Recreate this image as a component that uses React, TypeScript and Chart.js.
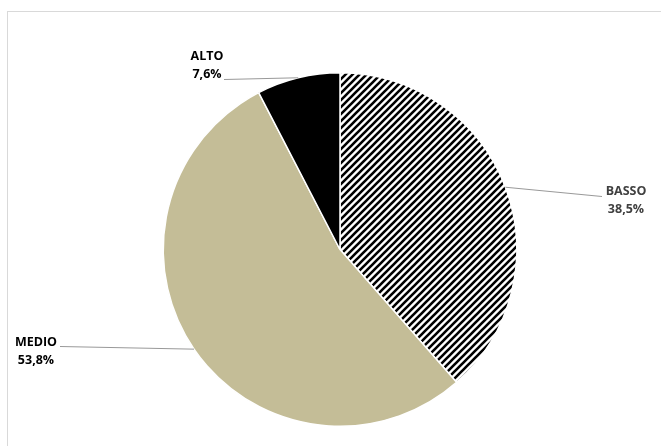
import React, { useEffect, useRef } from "react";
import { Chart, registerables } from "chart.js";

Chart.register(...registerables);

const categories = ["BASSO", "MEDIO", "ALTO"];
const percentages = [38.5, 53.8, 7.6];
const percentLabels = ["38,5%", "53,8%", "7,6%"];
const labelColors = ["#404040", "#000000", "#000000"];
// label block centre and leader end, as offsets from the pie centre (layout only)
const labelOffsets = [
  { tx: 286, ty: -49, lx: 262, ly: -53 },
  { tx: -304, ty: 102, lx: -280, ly: 97 },
  { tx: -133, ty: -184, lx: -116, ly: -170 },
];

function makeHatch(): CanvasPattern | string {
  const s = 7;
  const c = document.createElement("canvas");
  c.width = s;
  c.height = s;
  const g = c.getContext("2d");
  if (!g) return "#000";
  g.fillStyle = "#ffffff";
  g.fillRect(0, 0, s, s);
  g.strokeStyle = "#000000";
  g.lineWidth = 2.6;
  g.beginPath();
  g.moveTo(0, s);
  g.lineTo(s, 0);
  g.moveTo(-s / 2, s / 2);
  g.lineTo(s / 2, -s / 2);
  g.moveTo(s / 2, (3 * s) / 2);
  g.lineTo((3 * s) / 2, s / 2);
  g.stroke();
  const p = g.createPattern(c, "repeat");
  return p || "#000";
}

const frameAndLabels = {
  id: "frameAndLabels",
  beforeDraw(chart: any) {
    const ctx = chart.ctx;
    ctx.save();
    ctx.fillStyle = "#ffffff";
    ctx.fillRect(0, 0, chart.width, chart.height);
    ctx.strokeStyle = "#d9d9d9";
    ctx.lineWidth = 1;
    ctx.strokeRect(7.5, 11.5, chart.width + 20, chart.height + 20);
    ctx.restore();
  },
  afterDraw(chart: any) {
    const ctx = chart.ctx;
    const meta = chart.getDatasetMeta(0);
    ctx.save();
    meta.data.forEach((arc: any, i: number) => {
      const { x, y, startAngle, endAngle, outerRadius } = arc.getProps(
        ["x", "y", "startAngle", "endAngle", "outerRadius"],
        true
      );
      const mid = (startAngle + endAngle) / 2;
      const px = x + Math.cos(mid) * outerRadius;
      const py = y + Math.sin(mid) * outerRadius;
      const o = labelOffsets[i];
      ctx.strokeStyle = "#999999";
      ctx.lineWidth = 1;
      ctx.beginPath();
      ctx.moveTo(px, py);
      ctx.lineTo(x + o.lx, y + o.ly);
      ctx.stroke();
      ctx.fillStyle = labelColors[i];
      ctx.font = "bold 12.5px 'Open Sans', Lato, sans-serif";
      ctx.textAlign = "center";
      ctx.textBaseline = "middle";
      ctx.fillText(categories[i], x + o.tx, y + o.ty - 9);
      ctx.fillText(percentLabels[i], x + o.tx, y + o.ty + 9);
    });
    ctx.restore();
  },
};

export default function App() {
  const ref = useRef<HTMLCanvasElement | null>(null);
  useEffect(() => {
    document.body.style.margin = "0";
    if (!ref.current) return;
    const chart = new Chart(ref.current, {
      type: "pie",
      data: {
        labels: categories,
        datasets: [
          {
            data: percentages,
            backgroundColor: [makeHatch() as any, "#C4BD97", "#000000"],
            borderColor: "#ffffff",
            borderWidth: 1.5,
          },
        ],
      },
      options: {
        animation: false,
        responsive: false,
        layout: { padding: { top: 72, bottom: 19, left: 150, right: 131 } },
        plugins: {
          legend: { display: false },
          tooltip: { enabled: false },
          title: { display: false },
        },
      },
      plugins: [frameAndLabels],
    });
    return () => chart.destroy();
  }, []);
  return (
    <div style={{ width: 661, height: 446 }}>
      <canvas ref={ref} width={661} height={446} style={{ display: "block" }} />
    </div>
  );
}
